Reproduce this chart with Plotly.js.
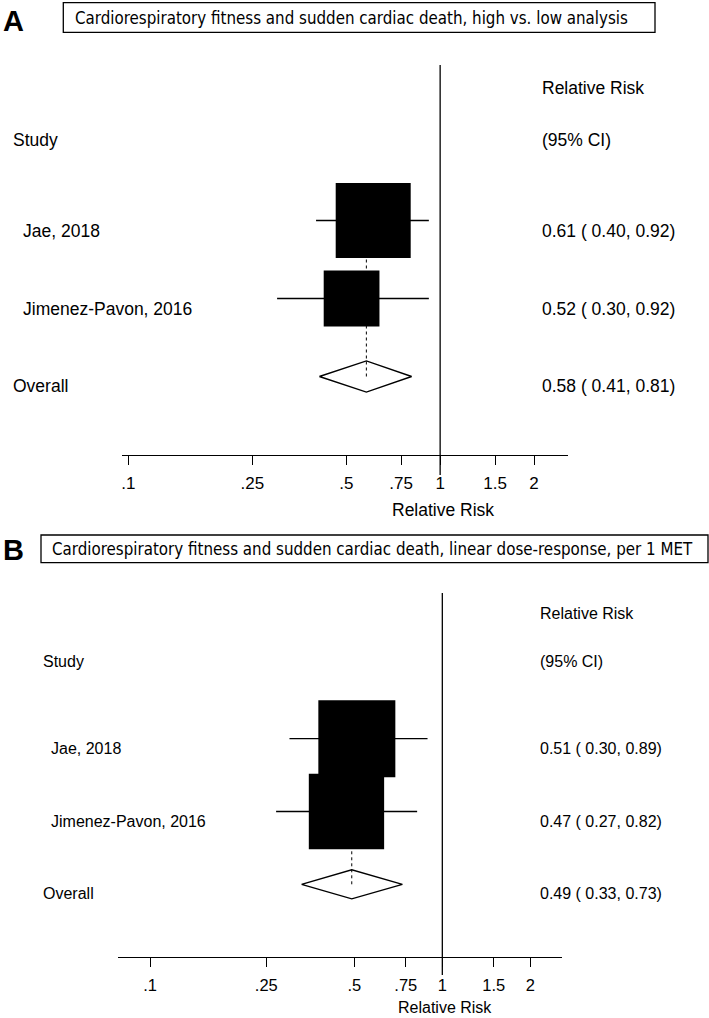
<!DOCTYPE html>
<html><head><meta charset="utf-8">
<script src="https://cdn.plot.ly/plotly-3.0.1.min.js"></script>
<style>html,body{margin:0;padding:0;background:#fff}#chart{width:709px;height:1018px}</style>
</head><body><div id="chart"></div>
<script>
// ---------- data ----------
const studies = ["Jae, 2018", "Jimenez-Pavon, 2016"];
const overallLabel = "Overall";

const rrA = [0.61, 0.52];
const loA = [0.40, 0.30];
const hiA = [0.92, 0.92];
const weightA = [64.4, 35.6];
const pooledA = [0.58, 0.41, 0.81];   // RR, lower, upper

const rrB = [0.51, 0.47];
const loB = [0.30, 0.27];
const hiB = [0.89, 0.82];
const weightB = [51.1, 48.9];
const pooledB = [0.49, 0.33, 0.73];

const tickVals = [0.1, 0.25, 0.5, 0.75, 1, 1.5, 2];
const tickText = [".1", ".25", ".5", ".75", "1", "1.5", "2"];

const titleA = "Cardiorespiratory fitness and sudden cardiac death, high vs. low analysis";
const titleB = "Cardiorespiratory fitness and sudden cardiac death, linear dose-response, per 1 MET";
const headStudy = "Study";
const headRR = "Relative Risk";
const headCI = "(95% CI)";
const axisTitle = "Relative Risk";

// ---------- layout helpers ----------
const W = 709, H = 1018;
const px = v => v / W;
const py = v => 1 - v / H;
const FONT = "'Liberation Sans', Arial, Helvetica, sans-serif";
const TFONT = "'DejaVu Sans Condensed', 'DejaVu Sans', Tahoma, sans-serif";
const fmt = v => v.toFixed(2);

const panels = [
  {letter:"A", title:titleA, rr:rrA, lo:loA, hi:hiA, w:weightA, pooled:pooledA,
   xa:"x", ya:"y", xDom:[122,568], yDom:[64.5,454.5], xRange:[-1.0202,0.4100],
   nullTop:65, nullBot:475, boxMax:75, font:17.5, tickFont:17, labelX:21, headX:11, colX:540,
   headRows:[3.70,3.03], axTitle:[443,510], box:[63.3,2.7,655,32.3], titleX:73, titleY:18, letterY:21},
  {letter:"B", title:titleB, rr:rrB, lo:loB, hi:hiB, w:weightB, pooled:pooledB,
   xa:"x2", ya:"y2", xDom:[118,561.7], yDom:[593.1,957.1], xRange:[-1.1095,0.4084],
   nullTop:593, nullBot:975, boxMax:77, font:16, tickFont:16.5, labelX:49, headX:41, colX:538,
   headRows:[3.72,3.06], axTitle:[445,1007], box:[41,535,708,562.7], titleX:50, titleY:549, letterY:550}
];

const rows = [2, 1];
const overallRow = 0;
const diamondH = 0.2;

const traces = [];
const shapes = [];
const annotations = [];
const layout = {
  width: W, height: H, margin:{l:0,r:0,t:0,b:0},
  paper_bgcolor:"#fff", plot_bgcolor:"#fff", showlegend:false,
  shapes: shapes, annotations: annotations
};

panels.forEach(p => {
  const xKey = p.xa === "x" ? "xaxis" : "xaxis2";
  const yKey = p.ya === "y" ? "yaxis" : "yaxis2";
  layout[xKey] = {
    type:"log", domain:[px(p.xDom[0]), px(p.xDom[1])], range:p.xRange, anchor:p.ya,
    tickvals:tickVals, ticktext:tickText, ticks:"outside", ticklen:9, tickwidth:1, tickcolor:"#000",
    showline:true, linecolor:"#000", linewidth:1, showgrid:false, zeroline:false,
    tickfont:{family:FONT, size:p.tickFont, color:"#000"}, ticklabelstandoff:4, fixedrange:true
  };
  layout[yKey] = {
    domain:[py(p.yDom[1]), py(p.yDom[0])], range:[-1,4], anchor:p.xa,
    visible:false, showgrid:false, zeroline:false, fixedrange:true
  };

  // CI lines
  const cx = [], cy = [];
  p.rr.forEach((v,i) => { cx.push(p.lo[i], p.hi[i], null); cy.push(rows[i], rows[i], null); });
  traces.push({type:"scatter", mode:"lines", x:cx, y:cy, xaxis:p.xa, yaxis:p.ya,
    line:{color:"#000", width:1.3}, hoverinfo:"skip"});

  // weighted boxes
  const maxW = Math.max(...p.w);
  traces.push({type:"scatter", mode:"markers", x:p.rr, y:rows, xaxis:p.xa, yaxis:p.ya,
    cliponaxis:false,
    marker:{symbol:"square", color:"#000", opacity:1,
            size:p.w.map(w => p.boxMax*Math.sqrt(w/maxW)), line:{width:0}},
    hoverinfo:"skip"});

  // pooled diamond
  const [pr, pl, ph] = p.pooled;
  traces.push({type:"scatter", mode:"lines", x:[pl, pr, ph, pr, pl], y:[overallRow, overallRow+diamondH, overallRow, overallRow-diamondH, overallRow],
    xaxis:p.xa, yaxis:p.ya, fill:"toself", fillcolor:"rgba(255,255,255,0)",
    line:{color:"#000", width:1.4}, hoverinfo:"skip"});

  // null line
  shapes.push({type:"line", xref:p.xa, yref:"paper", x0:1, x1:1, y0:py(p.nullBot), y1:py(p.nullTop),
    line:{color:"#000", width:1.3}, layer:"above"});
  // pooled estimate dotted line
  shapes.push({type:"line", xref:p.xa, yref:p.ya, x0:pr, x1:pr, y0:overallRow, y1:rows[0],
    line:{color:"#000", width:1, dash:"dot"}, layer:"below"});
  // title box
  shapes.push({type:"rect", xref:"paper", yref:"paper", x0:px(p.box[0]), x1:px(p.box[2]), y0:py(p.box[3]), y1:py(p.box[1]),
    line:{color:"#000", width:1.3}, fillcolor:"rgba(0,0,0,0)"});

  const txt = (text, x, y, yref, size, extra) => Object.assign({
    text:text, xref:"paper", yref:yref, x:x, y:y, xanchor:"left", yanchor:"middle",
    showarrow:false, font:{family:FONT, size:size, color:"#000"}
  }, extra || {});

  // title + letter
  annotations.push(txt(p.title, px(p.titleX), py(p.titleY), "paper", 16.8, {font:{family:TFONT, size:16.8, color:"#000"}}));
  annotations.push(txt(p.letter, px(1), py(p.letterY), "paper", 29, {font:{family:FONT, size:29, color:"#000", weight:"bold"}}));

  // headers
  annotations.push(txt(headRR, px(p.colX), p.headRows[0], p.ya, p.font));
  annotations.push(txt(headCI, px(p.colX), p.headRows[1], p.ya, p.font));
  annotations.push(txt(headStudy, px(p.headX), p.headRows[1], p.ya, p.font));

  // study rows
  studies.forEach((s,i) => {
    annotations.push(txt(s, px(p.labelX), rows[i], p.ya, p.font, {yshift:-10}));
    annotations.push(txt(fmt(p.rr[i]) + " ( " + fmt(p.lo[i]) + ", " + fmt(p.hi[i]) + ")", px(p.colX), rows[i], p.ya, p.font, {yshift:-10}));
  });
  annotations.push(txt(overallLabel, px(p.headX), overallRow, p.ya, p.font, {yshift:-9}));
  annotations.push(txt(fmt(pr) + " ( " + fmt(pl) + ", " + fmt(ph) + ")", px(p.colX), overallRow, p.ya, p.font, {yshift:-9}));

  // axis title
  annotations.push(txt(axisTitle, px(p.axTitle[0]), py(p.axTitle[1]), "paper", p.font, {xanchor:"center"}));
});

Plotly.newPlot("chart", traces, layout, {staticPlot:true, displayModeBar:false});
</script></body></html>
